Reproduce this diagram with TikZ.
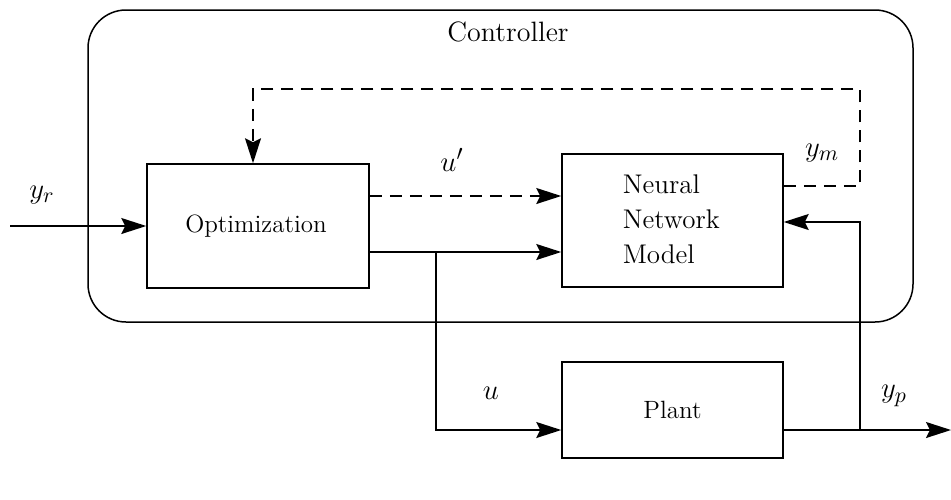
\documentclass[tikz,border=0pt]{standalone}
\usetikzlibrary{arrows.meta,calc}
\begin{document}
\begin{tikzpicture}[x=0.5pt,y=-0.5pt,
  line width=0.75pt,
  arr/.style={-{Stealth[length=12.5pt,width=8pt,inset=2pt]}},
  dsh/.style={dash pattern=on 6pt off 4pt},
  blk/.style={draw,inner sep=0pt},
  lbl/.style={font=\fontsize{15}{18}\selectfont},
  txt/.style={font=\fontsize{12.5}{16}\selectfont}]
\useasboundingbox (0,0) rectangle (951,499);
% controller frame
\draw[rounded corners=19pt] (88,10) rectangle (913,322);
\node[font=\fontsize{14}{16}\selectfont] (ctrl) at (508,32) {Controller};
% blocks
\node[blk,minimum width=111pt,minimum height=62pt] (opt) at (258,226) {};
\node[txt] (optt) at (256,226) {Optimization};
\node[blk,minimum width=110.5pt,minimum height=66.5pt] (nn) at (672.5,220.5) {};
\node[txt,anchor=west,align=left,inner sep=0pt,font=\fontsize{13.5}{17.5}\selectfont] (nnt) at (622,219) {Neural\\Network\\Model};
\node[blk,minimum width=110.5pt,minimum height=48pt] (plant) at (672.5,410) {};
\node[txt] (plantt) at (672.5,410) {Plant};
% coordinates
\coordinate (in) at (10,226);
\coordinate (uy) at (0,196);
\coordinate (sy) at (0,252);
\coordinate (br) at (436,252);
\coordinate (brd) at (436,430);
\coordinate (py) at (0,430);
\coordinate (out) at (951,430);
\coordinate (fb) at (860,430);
\coordinate (fbt) at (860,222);
\coordinate (ymy) at (0,186);
\coordinate (ymr) at (860,186);
\coordinate (ymt) at (860,89);
\coordinate (ytl) at (253,89);
% connectors
\draw[arr] (in) -- (opt.west);
\draw[arr,dsh] (opt.east |- uy) -- (nn.west |- uy);
\draw[arr] (opt.east |- sy) -- (nn.west |- sy);
\draw[arr] (br) -- (brd) -- (plant.west |- py);
\draw[arr] (plant.east |- py) -- (out);
\draw[arr] (fb) -- (fbt) -- (nn.east |- fbt);
\draw[arr,dsh] (nn.east |- ymy) -- (ymr) -- (ymt) -- (ytl) -- (opt.north -| ytl);
% labels
\node[lbl] (lyr) at (42,195) {$y_r$};
\node[lbl] (lu1) at (452,160) {$u'$};
\node[lbl] (lym) at (822,153) {$y_m$};
\node[lbl] (lu) at (491,393) {$u$};
\node[lbl] (lyp) at (894,396) {$y_p$};
\end{tikzpicture}
\end{document}
